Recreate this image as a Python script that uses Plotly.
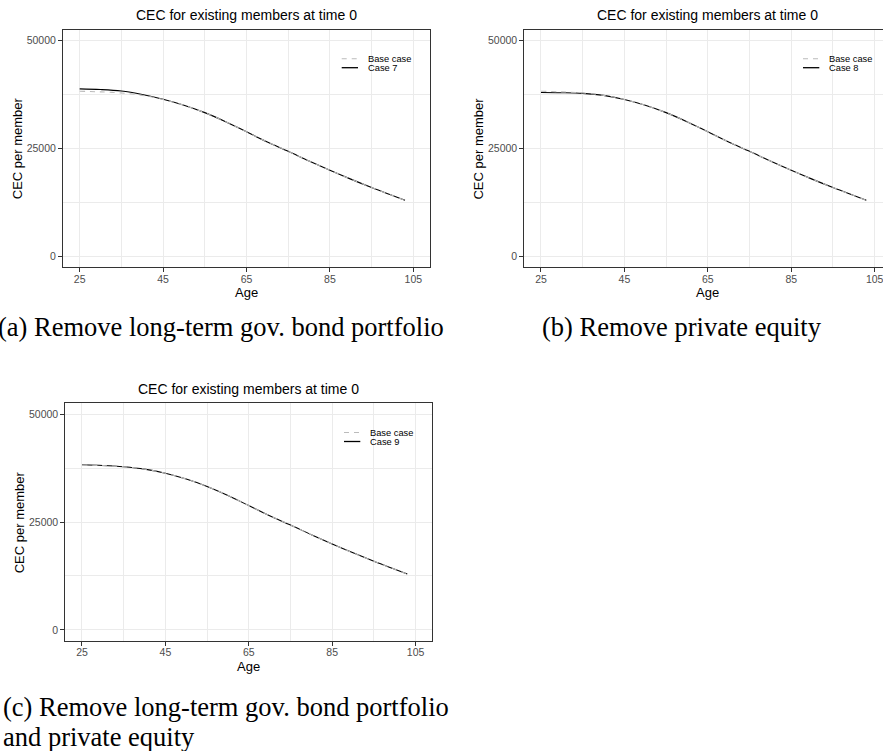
import plotly.graph_objects as go

# ---- data -------------------------------------------------------------
ages = [25, 30, 35, 40, 45, 50, 55, 60, 65, 70, 75, 80, 85, 90, 95, 100, 103]
base_case = [38200, 38050, 37800, 37250, 36300, 34950, 33250, 31150, 28800,
             26450, 24300, 22050, 19900, 17850, 15900, 14050, 12950]
case_7 = [38750, 38600, 38250, 37450, 36350, 34950, 33250, 31150, 28800,
          26450, 24300, 22050, 19900, 17850, 15900, 14050, 12950]
case_8 = [37900, 37850, 37700, 37250, 36300, 34950, 33250, 31150, 28800,
          26450, 24300, 22050, 19900, 17850, 15900, 14050, 12950]
case_9 = [38250, 38100, 37800, 37250, 36300, 34950, 33250, 31150, 28800,
          26450, 24300, 22050, 19900, 17850, 15900, 14050, 12950]

case_names = ["Case 7", "Case 8", "Case 9"]
case_values = [case_7, case_8, case_9]
captions = [
    ["(a) Remove long-term gov. bond portfolio"],
    ["(b) Remove private equity"],
    ["(c) Remove long-term gov. bond portfolio", "and private equity"],
]
y_ticks = [0, 25000, 50000]
x_ticks = [25, 45, 65, 85, 105]
title_text = "CEC for existing members at time 0"

# ---- page geometry (pixels) -------------------------------------------
W, H = 883, 751


def fx(px):
    return px / W


def fy(py):
    return 1 - py / H


SANS = "Liberation Sans, Arial, Helvetica, sans-serif"
SERIF = "Liberation Serif, Times New Roman, serif"
GRID = "#EBEBEB"
FRAME = "#333333"
TICKTXT = "#4D4D4D"
BASE_COL = "#BBBBBB"

# panel boxes: left, right, top, bottom, x-range max, right frame shown
panels = [
    dict(l=63.0, r=430.0, t=29.5, b=267.0, xmax=109.0, right=True,
         cap_x=-4, cap_y=[310]),
    dict(l=524.3, r=883.0, t=29.5, b=267.0, xmax=107.0, right=False,
         cap_x=540, cap_y=[310]),
    dict(l=65.3, r=432.3, t=403.3, b=640.7, xmax=109.0, right=True,
         cap_x=1, cap_y=[690, 720]),
]
full_width = 367.0  # width of an uncropped panel

fig = go.Figure()
annotations = []
shapes = []

for i, p in enumerate(panels):
    n = "" if i == 0 else str(i + 1)
    xa, ya = "x" + n, "y" + n

    # case line first, dashed base case drawn over it
    fig.add_trace(go.Scatter(
        x=ages, y=case_values[i], mode="lines", name=case_names[i],
        line=dict(color="black", width=1.1, shape="spline", smoothing=1.0),
        xaxis=xa, yaxis=ya, showlegend=False, hoverinfo="x+y+name"))
    fig.add_trace(go.Scatter(
        x=ages, y=base_case, mode="lines", name="Base case",
        line=dict(color=BASE_COL, width=1.1, dash="5px,5px",
                  shape="spline", smoothing=1.0),
        xaxis=xa, yaxis=ya, showlegend=False, hoverinfo="x+y+name"))

    xkey = "xaxis" + n
    ykey = "yaxis" + n
    fig.layout[xkey] = dict(
        domain=[fx(p["l"]), fx(p["r"])], anchor=ya, range=[21, p["xmax"]],
        tickmode="array", tickvals=x_ticks, ticktext=[str(v) for v in x_ticks],
        ticks="outside", ticklen=4, tickwidth=1, tickcolor=FRAME,
        tickfont=dict(family=SANS, size=10.5, color=TICKTXT),
        ticklabeloverflow="allow", ticklabelstandoff=-2,
        showgrid=True, gridcolor=GRID, gridwidth=1,
        minor=dict(tickmode="linear", tick0=25, dtick=10, showgrid=True,
                   gridcolor=GRID, gridwidth=0.6, ticks=""),
        showline=True, linecolor=FRAME, linewidth=1, mirror=True,
        zeroline=False, fixedrange=True)
    fig.layout[ykey] = dict(
        domain=[fy(p["b"]), fy(p["t"])], anchor=xa, range=[-2500, 52500],
        tickmode="array", tickvals=y_ticks, ticktext=[str(v) for v in y_ticks],
        ticks="outside", ticklen=4, tickwidth=1, tickcolor=FRAME,
        tickfont=dict(family=SANS, size=10.5, color=TICKTXT),
        showgrid=True, gridcolor=GRID, gridwidth=1,
        minor=dict(tickmode="linear", tick0=0, dtick=12500, showgrid=True,
                   gridcolor=GRID, gridwidth=0.6, ticks=""),
        showline=True, linecolor=FRAME, linewidth=1,
        mirror=True if p["right"] else False,
        zeroline=False, fixedrange=True)

    cx = p["l"] + full_width / 2  # centre of the full panel
    cy = (p["t"] + p["b"]) / 2

    # panel title
    annotations.append(dict(
        text=title_text, x=fx(cx), y=fy(p["t"] - 14.5), xref="paper",
        yref="paper", xanchor="center", yanchor="middle", showarrow=False,
        font=dict(family=SANS, size=14, color="black")))
    # axis titles
    annotations.append(dict(
        text="Age", x=fx(cx), y=fy(p["b"] + 25.5), xref="paper", yref="paper",
        xanchor="center", yanchor="middle", showarrow=False,
        font=dict(family=SANS, size=13, color="black")))
    annotations.append(dict(
        text="CEC per member", x=fx(p["l"] - 46), y=fy(cy), xref="paper",
        yref="paper", xanchor="center", yanchor="middle", textangle=-90,
        showarrow=False, font=dict(family=SANS, size=13, color="black")))

    # legend inside the panel
    kx0 = p["l"] + 278.7
    kx1 = kx0 + 16.3
    ky = [p["t"] + 29.2, p["t"] + 38.2]
    shapes.append(dict(type="line", xref="paper", yref="paper",
                       x0=fx(kx0), x1=fx(kx1), y0=fy(ky[0]), y1=fy(ky[0]),
                       line=dict(color=BASE_COL, width=1.1, dash="5px,5px")))
    shapes.append(dict(type="line", xref="paper", yref="paper",
                       x0=fx(kx0), x1=fx(kx1), y0=fy(ky[1]), y1=fy(ky[1]),
                       line=dict(color="black", width=1.3)))
    for label, yy in zip(["Base case", case_names[i]], ky):
        annotations.append(dict(
            text=label, x=fx(kx1 + 8), y=fy(yy), xref="paper", yref="paper",
            xanchor="left", yanchor="middle", showarrow=False,
            font=dict(family=SANS, size=9.3, color="black")))

    # sub-figure caption
    for k, line in enumerate(captions[i]):
        annotations.append(dict(
            text=line, x=fx(p["cap_x"]), y=fy(p["cap_y"][k]), xref="paper",
            yref="paper", xanchor="left", yanchor="top", showarrow=False,
            font=dict(family=SERIF, size=26.5, color="black")))

fig.update_layout(
    width=W, height=H, margin=dict(l=0, r=0, t=0, b=0),
    paper_bgcolor="white", plot_bgcolor="white",
    showlegend=False, annotations=annotations, shapes=shapes,
)

fig.write_html("out.html")
